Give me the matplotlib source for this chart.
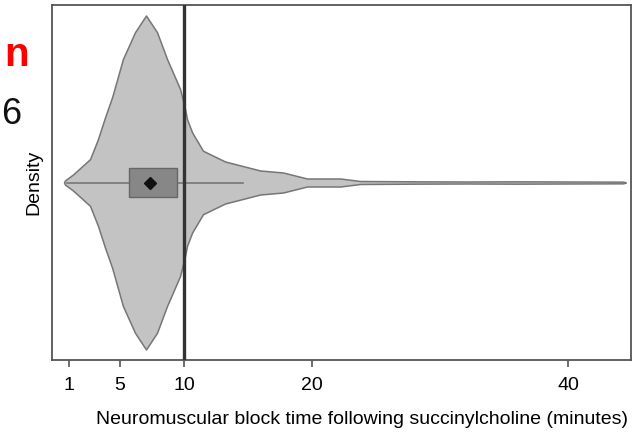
import numpy as np
import matplotlib
matplotlib.use("Agg")
import matplotlib.pyplot as plt

plt.rcParams['font.family'] = ['Liberation Sans', 'DejaVu Sans']

# violin outline (upper half), block time in minutes vs relative density
blockTime = [0.63, 0.70, 1.33, 2.66, 3.28, 3.83, 4.38, 5.23, 6.17, 7.03, 7.89, 8.67,
             9.69, 10.08, 10.23, 10.63, 11.48, 13.2, 15.94, 17.73, 19.6, 22.2, 23.75,
             28.0, 32.0, 36.0, 40.0, 44.3, 44.5]
density = [0.0, 0.012, 0.048, 0.14, 0.26, 0.39, 0.51, 0.74, 0.90, 1.0, 0.90, 0.74,
           0.56, 0.44, 0.38, 0.30, 0.19, 0.126, 0.072, 0.06, 0.024, 0.024, 0.009,
           0.007, 0.006, 0.007, 0.006, 0.005, 0.0]

# box summary
q1, q3 = 5.7, 9.45
meanValue = 7.35
whiskerLow, whiskerHigh = 0.9, 14.6
cutoff = 10

xTicks = [1, 5, 10, 20, 40]

def drawViolin(ax):
    v = np.array(blockTime)
    d = np.array(density)
    ax.fill_between(v, -d, d, color='#c3c3c3', edgecolor='#767676', linewidth=1.1, zorder=2)

def drawBox(ax):
    ax.plot([whiskerLow, whiskerHigh], [0, 0], color='#777777', linewidth=1.2, zorder=3)
    ax.add_patch(plt.Rectangle((q1, -0.087), q3 - q1, 0.174, facecolor='#878787',
                               edgecolor='#666666', linewidth=1.0, zorder=4))
    ax.plot([meanValue], [0], marker='D', color='#111111', markersize=6, zorder=5)

fig = plt.figure(figsize=(6.41, 4.32), dpi=100)
ax = fig.add_axes([52/641, 72/432, 579/641, 355/432])

drawViolin(ax)
drawBox(ax)
ax.axvline(cutoff, color='#333333', linewidth=2.4, zorder=6)

ax.set_xlim(-0.31, 44.9)
ax.set_ylim(-1.063, 1.063)
ax.set_xticks(xTicks)
ax.set_xticklabels([str(t) for t in xTicks], fontsize=14)
ax.set_yticks([])
ax.tick_params(axis='x', length=5, width=1.2, color='#555555', pad=7)
for s in ax.spines.values():
    s.set_color('#555555')
    s.set_linewidth(1.3)

ax.set_xlabel("Neuromuscular block time following succinylcholine (minutes)", fontsize=14)
ax.xaxis.set_label_coords(0.536, -0.143)
ax.set_ylabel("Density", fontsize=14, labelpad=7)

fig.text(4/641, 1 - 55/432, "n", color='#ff0000', fontsize=29, fontweight='bold',
         ha='left', va='center')
fig.text(1/641, 1 - 114/432, "6", color='#111111', fontsize=26, ha='left', va='center')

fig.savefig("out.png", dpi=100)
